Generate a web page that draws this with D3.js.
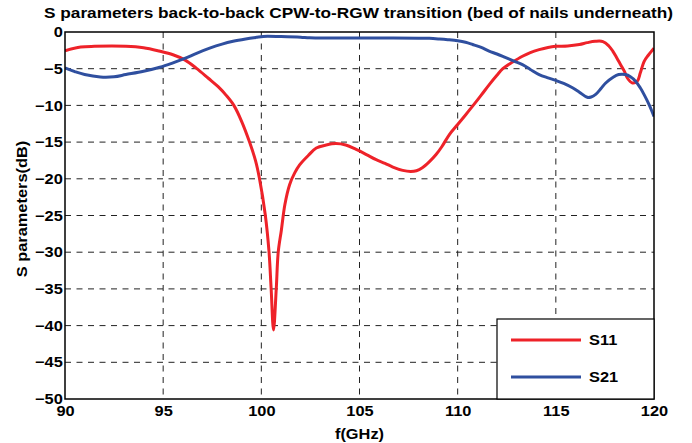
<!DOCTYPE html>
<html><head><meta charset="utf-8">
<script src="https://cdn.jsdelivr.net/npm/d3@7"></script>
<style>
body{margin:0;background:#fff;}
text{font-family:Arial,"Liberation Sans",sans-serif;font-weight:bold;fill:#000;}
</style></head>
<body><svg id="c" width="692" height="443"></svg>
<script>
const title = "S parameters back-to-back CPW-to-RGW transition (bed of nails underneath)";
const xLabel = "f(GHz)";
const yLabel = "S parameters(dB)";
const xTicks = [90, 95, 100, 105, 110, 115, 120];
const yTicks = [0, -5, -10, -15, -20, -25, -30, -35, -40, -45, -50];
const seriesNames = ["S11", "S21"];
const seriesColors = ["#ee2229", "#2f4f9f"];

const s11Freq = [90,90.8,91.5,93.1,94,94.8,95.5,96.1,96.7,97.3,97.8,98.2,98.6,99,99.4,99.7,99.9,100.2,100.39,100.5,100.62,100.76,100.86,101.02,101.2,101.44,101.7,101.95,102.4,102.8,103.3,103.8,104.3,104.83,105.35,105.85,106.3,106.7,107.2,107.6,107.9,108.2,108.55,108.9,109.2,109.57,110,110.4,110.76,111.2,111.6,112,112.3,112.8,113.3,113.7,114.15,114.6,115,115.6,116.2,116.6,117,117.4,117.7,117.9,118.1,118.3,118.5,118.65,118.9,119.15,119.3,119.5,119.7,120];
const s11dB = [-2.55,-2.05,-1.95,-1.95,-2.15,-2.6,-3.1,-3.8,-4.95,-6.3,-7.45,-8.6,-10,-12.2,-15,-17.5,-19.9,-24.9,-29.9,-35,-40.6,-35,-30,-27,-23.5,-20.8,-19.2,-18.1,-16.8,-15.8,-15.4,-15.2,-15.4,-16.0,-16.7,-17.4,-17.9,-18.4,-18.85,-19.0,-18.9,-18.5,-17.7,-16.7,-15.6,-14.0,-12.6,-11.3,-10.1,-8.6,-7.2,-5.9,-5.0,-4.1,-3.3,-2.8,-2.4,-2.1,-1.95,-1.9,-1.7,-1.45,-1.27,-1.3,-1.9,-2.6,-3.5,-4.45,-5.4,-6.3,-6.95,-6.7,-5.6,-4.0,-3.2,-2.2];

const s21Freq = [90,90.5,91,91.8,92.5,93.1,94,94.83,95.5,96.1,96.7,97.37,98,98.56,99.2,99.74,100.1,101,102,102.46,104,106,108,108.56,109.07,109.5,110,110.4,110.76,111.2,111.6,112,112.45,112.9,113.3,113.7,114.15,114.6,115,115.4,115.85,116.2,116.6,116.8,117.03,117.3,117.54,117.9,118.2,118.55,118.8,119.06,119.3,119.49,119.75,120];
const s21dB = [-4.9,-5.4,-5.8,-6.13,-6.1,-5.8,-5.35,-4.8,-4.2,-3.6,-2.9,-2.2,-1.65,-1.27,-0.95,-0.73,-0.6,-0.62,-0.7,-0.8,-0.82,-0.82,-0.84,-0.86,-0.95,-1.05,-1.2,-1.4,-1.7,-2.1,-2.6,-3.0,-3.5,-4.0,-4.45,-5.1,-5.8,-6.25,-6.6,-7.0,-7.6,-8.2,-8.9,-8.85,-8.5,-7.7,-6.95,-6.2,-5.8,-5.8,-6.1,-6.7,-7.6,-8.5,-9.9,-11.5];

const SX = 1.13;
const svg = d3.select("#c");
const L = 65, R = 654, T = 32, B = 399;
const x = d3.scaleLinear().domain([90, 120]).range([L, R]);
const y = d3.scaleLinear().domain([-50, 0]).range([B, T]);

// grid
const grid = svg.append("g").attr("stroke", "#222").attr("stroke-width", 1).attr("stroke-dasharray", "6,5.5");
grid.selectAll("line.v").data(xTicks.slice(1, -1)).enter().append("line")
  .attr("x1", d => x(d)).attr("x2", d => x(d)).attr("y1", T).attr("y2", B);
grid.selectAll("line.h").data(yTicks.slice(1, -1)).enter().append("line")
  .attr("y1", d => y(d)).attr("y2", d => y(d)).attr("x1", L).attr("x2", R);

// axes
const xAxis = d3.axisBottom(x).tickValues(xTicks).tickSize(0).tickPadding(5).tickFormat(d3.format("d"));
const yAxis = d3.axisLeft(y).tickValues(yTicks).tickSize(0).tickPadding(2).tickFormat(d3.format("d"));
const gx = svg.append("g").attr("transform", `translate(0,${B})`).call(xAxis);
const gy = svg.append("g").attr("transform", `translate(${L},0)`).call(yAxis);
[gx, gy].forEach(g => { g.select(".domain").remove(); g.selectAll("text").style("font-size", "14.5px").style("font-family", "Arial, 'Liberation Sans', sans-serif").style("font-weight", "bold").attr("fill", "#000").attr("transform", `scale(${SX},1)`); });
gx.selectAll("text").attr("dy", "0.85em");

// lines
const line = d3.line().x(d => x(d[0])).y(d => y(d[1])).curve(d3.curveCatmullRom.alpha(0.5));
const s11 = s11Freq.map((f, i) => [f, s11dB[i]]);
const s21 = s21Freq.map((f, i) => [f, s21dB[i]]);
svg.append("clipPath").attr("id", "cp").append("rect").attr("x", L).attr("y", T).attr("width", R - L).attr("height", B - T);
const lg = svg.append("g").attr("clip-path", "url(#cp)");
lg.append("path").attr("d", line(s11)).attr("fill", "none").attr("stroke", seriesColors[0]).attr("stroke-width", 3).attr("stroke-linejoin", "round");
lg.append("path").attr("d", line(s21)).attr("fill", "none").attr("stroke", seriesColors[1]).attr("stroke-width", 3).attr("stroke-linejoin", "round");

// frame
svg.append("rect").attr("x", L).attr("y", T).attr("width", R - L).attr("height", B - T)
  .attr("fill", "none").attr("stroke", "#000").attr("stroke-width", 1.5);

// legend
const lgx = 497, lgy = 319, lgw = R - 497, lgh = B - 319;
svg.append("rect").attr("x", lgx).attr("y", lgy).attr("width", lgw).attr("height", lgh)
  .attr("fill", "#fff").attr("stroke", "#000").attr("stroke-width", 1.2);
seriesNames.forEach((n, i) => {
  const yy = lgy + 21 + i * 37;
  svg.append("line").attr("x1", lgx + 14).attr("x2", lgx + 84).attr("y1", yy).attr("y2", yy)
    .attr("stroke", seriesColors[i]).attr("stroke-width", 3);
  svg.append("text").attr("transform", `translate(${lgx + 92},${yy + 5}) scale(${SX},1)`).style("font-size", "14.5px").text(n);
});

// titles
svg.append("text").attr("x", 358.5).attr("y", 18).attr("text-anchor", "middle").style("font-size", "15px")
  .attr("textLength", 629).attr("lengthAdjust", "spacingAndGlyphs").text(title);
svg.append("text").attr("transform", `translate(${L + (R - L) / 2},439) scale(${SX},1)`).attr("text-anchor", "middle").style("font-size", "14.5px").text(xLabel);
svg.append("text").attr("transform", `translate(27,209) rotate(-90) scale(${SX},1)`).attr("text-anchor", "middle").style("font-size", "14.5px").text(yLabel);
</script></body></html>
